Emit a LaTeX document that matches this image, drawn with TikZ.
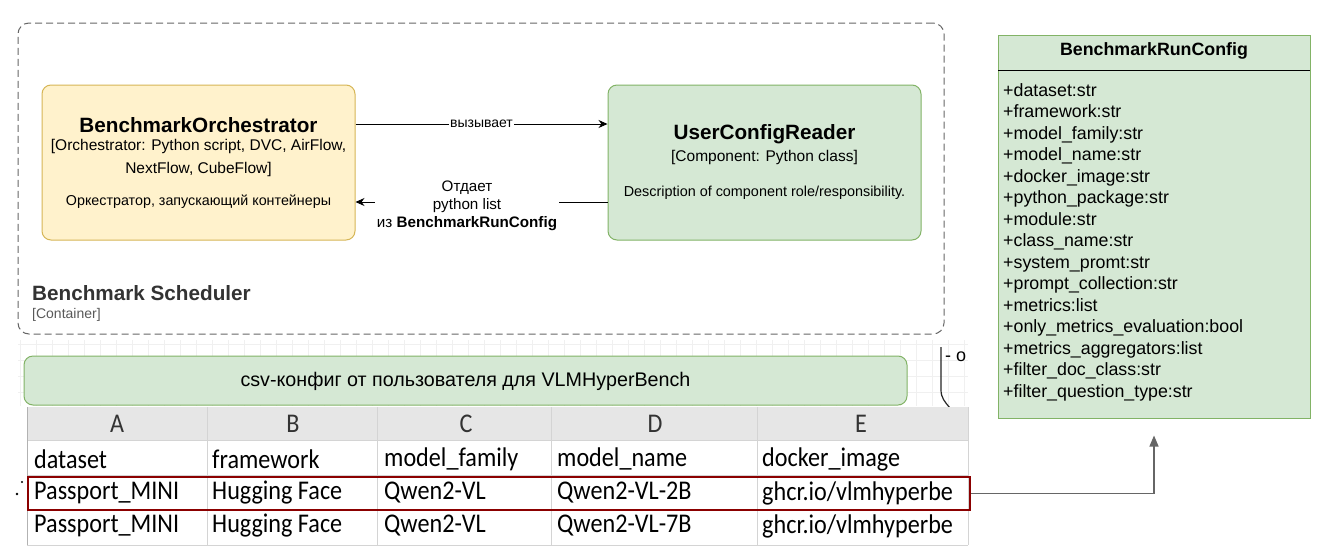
\documentclass[tikz,border=0pt]{standalone}
\usepackage{fontspec}
\setmainfont{Liberation Sans}
\newfontfamily\calib[FakeStretch=0.895]{Carlito}
\usetikzlibrary{arrows.meta,calc}
\definecolor{orfill}{HTML}{FFF2CC}
\definecolor{ordraw}{HTML}{D6B656}
\definecolor{grfill}{HTML}{D5E8D4}
\definecolor{grdraw}{HTML}{82B366}
\definecolor{selred}{HTML}{8B0000}
\definecolor{hdrfill}{HTML}{E6E6E6}
\definecolor{cellline}{HTML}{D4D4D4}
\definecolor{gridc}{HTML}{F0F0F0}
\newcommand{\fsz}[1]{\fontsize{#1}{#1}\selectfont}
\tikzset{
  compbox/.style={draw=grdraw, fill=grfill, rounded corners=9pt, line width=1pt, inner sep=0pt},
  orchbox/.style={draw=ordraw, fill=orfill, rounded corners=9pt, line width=1pt, inner sep=0pt},
  txt/.style={inner sep=0pt, align=center},
  conn/.style={line width=0.9pt, -{Stealth[length=9pt,width=8pt]}},
  tcell/.style={inner sep=0pt, anchor=west, font=\calib\fsz{27}},
  thead/.style={inner sep=0pt, font=\calib\fsz{27}, text=black!80},
}
\begin{document}
\begin{tikzpicture}[x=1pt,y=-1pt]
\useasboundingbox (0,0) rectangle (1330,555);
\fill[white] (0,0) rectangle (1330,555);
% faint drawing grid
\begin{scope}
\clip (18,340) rectangle (968,406);
\foreach \gx in {20,36,...,968} \draw[gridc, line width=0.5pt] (\gx,340) -- (\gx,406);
\foreach \gy in {344,360,...,406} \draw[gridc, line width=0.5pt] (18,\gy) -- (968,\gy);
\end{scope}
% container
\node[draw=black!60, dashed, dash pattern=on 7pt off 4pt, line width=1pt, rounded corners=11pt, minimum width=926pt, minimum height=311pt, inner sep=0pt] (sched) at (481,178.5) {};
\node[txt, anchor=base west, font=\bfseries\fsz{20.7}, text=black!80] (schedt) at (32,300) {Benchmark Scheduler};
\node[txt, anchor=base west, font=\fsz{14}, text=black!65] (schedc) at (32,318) {[Container]};
% orchestrator
\node[orchbox, minimum width=313pt, minimum height=155pt] (orch) at (198.5,162.5) {};
\node[txt, font=\bfseries\fsz{20.7}] (orcht) at (198.5,125) {BenchmarkOrchestrator};
\node[txt, font=\fsz{15.5}] (orchs1) at (198.5,146) {[Orchestrator: Python script, DVC, AirFlow,};
\node[txt, font=\fsz{15.5}] (orchs2) at (198.5,169) {NextFlow, CubeFlow]};
\node[txt, font=\fsz{14.3}] (orchd) at (198.5,202) {Оркестратор, запускающий контейнеры};
% user config reader
\node[compbox, minimum width=313pt, minimum height=155pt] (ucr) at (764.5,162.5) {};
\node[txt, font=\bfseries\fsz{20.7}] (ucrt) at (764.5,134) {UserConfigReader};
\node[txt, font=\fsz{15.5}] (ucrs) at (764.5,157) {[Component: Python class]};
\node[txt, font=\fsz{14.4}] (ucrd) at (764.5,193) {Description of component role/responsibility.};
% connectors
\draw[conn] ([yshift=38.5pt]orch.east) -- node[fill=white, inner sep=1pt, font=\fsz{14}] (calls) {вызывает} ([yshift=38.5pt]ucr.west);
\draw[conn] ([yshift=-39.5pt]ucr.west) -- ([yshift=-39.5pt]orch.east);
\node[fill=white, txt, font=\fsz{15.2}, inner sep=2pt] (ret) at (467,206) {Отдает\\[3pt]python list\\[3pt]из \textbf{BenchmarkRunConfig}};
% stray bracket fragment
\begin{scope}
\clip (930,340) rectangle (968,406);
\draw[black!85, line width=1.2pt] (941,347) -- (941,390) to[out=-90,in=130] (950,408);
\node[inner sep=0pt, anchor=west, font=\fsz{18}] (frag) at (945,357) {- о};
\end{scope}
% csv box
\node[compbox, minimum width=883pt, minimum height=49pt] (csv) at (465.5,380.5) {};
\node[txt, font=\fsz{19.7}] (csvt) at (465.5,381) {csv-конфиг от пользователя для VLMHyperBench};
% table
\fill[hdrfill] (27,407) rectangle (968,440);
\draw[cellline, line width=0.8pt] (27,440) -- (968,440);
\draw[cellline, line width=0.8pt] (27,475) -- (968,475);
\draw[cellline, line width=0.8pt] (27,510) -- (968,510);
\draw[cellline, line width=0.8pt] (27,545) -- (968,545);
\foreach \cx in {207,377,551,757} \draw[cellline, line width=0.8pt] (\cx,407) -- (\cx,545);
\draw[black!30, line width=1pt] (27,407) -- (27,545);
\draw[cellline, line width=0.8pt] (968,407) -- (968,545);
\node[thead] (ha) at (117,424) {A};
\node[thead] (hb) at (293,424) {B};
\node[thead] (hc) at (466,424) {C};
\node[thead] (hd) at (655,424) {D};
\node[thead] (he) at (861,424) {E};
\node[tcell] (c11) at (34,459) {dataset};
\node[tcell] (c12) at (212,459) {framework};
\node[tcell] (c13) at (384,459) {model\_family};
\node[tcell] (c14) at (557,459) {model\_name};
\node[tcell] (c15) at (762,459) {docker\_image};
\node[tcell] (c21) at (34,493) {Passport\_MINI};
\node[tcell] (c22) at (212,493) {Hugging Face};
\node[tcell] (c23) at (384,493) {Qwen2-VL};
\node[tcell] (c24) at (557,493) {Qwen2-VL-2B};
\node[tcell] (c25) at (762,493) {ghcr.io/vlmhyperbe};
\node[tcell] (c31) at (34,526) {Passport\_MINI};
\node[tcell] (c32) at (212,526) {Hugging Face};
\node[tcell] (c33) at (384,526) {Qwen2-VL};
\node[tcell] (c34) at (557,526) {Qwen2-VL-7B};
\node[tcell] (c35) at (762,526) {ghcr.io/vlmhyperbe};
\fill[black] (22,482) circle (1.1pt);
\fill[black] (17,494) circle (1.3pt);
% selected row
\node[draw=selred, line width=2.5pt, minimum width=942pt, minimum height=33pt, inner sep=0pt] (rowsel) at (499,493.5) {};
% class box
\node[compbox, rounded corners=0pt, minimum width=312pt, minimum height=383pt] (cfg) at (1154,226.5) {};
\draw[black, line width=1pt] (998,70) -- (1310,70);
\node[txt, font=\bfseries\fsz{17.8}] (cfgt) at (1154,51) {BenchmarkRunConfig};
\node[inner sep=0pt, anchor=north west, align=left, font=\fontsize{17.8}{21.5}\selectfont] (attrs) at (1003,83) {+dataset:str\\+framework:str\\+model\_family:str\\+model\_name:str\\+docker\_image:str\\+python\_package:str\\+module:str\\+class\_name:str\\+system\_promt:str\\+prompt\_collection:str\\+metrics:list\\+only\_metrics\_evaluation:bool\\+metrics\_aggregators:list\\+filter\_doc\_class:str\\+filter\_question\_type:str};
% row -> class
\draw[black!60, line width=1.2pt, -{Triangle[length=11pt,width=9pt]}, shorten >=17pt] (rowsel.east) -| (cfg.south);
\end{tikzpicture}
\end{document}
